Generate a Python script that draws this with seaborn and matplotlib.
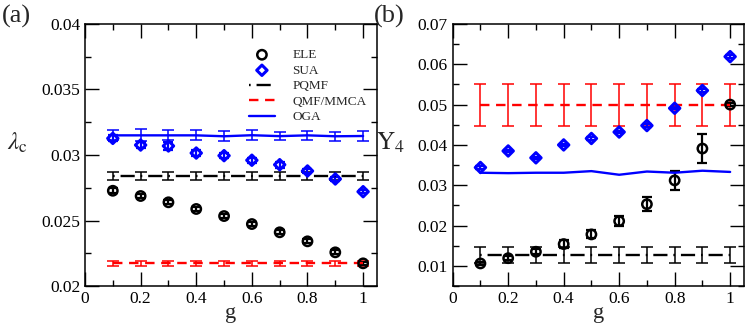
import matplotlib
matplotlib.use("Agg")
import matplotlib.pyplot as plt
from matplotlib.ticker import MultipleLocator, FuncFormatter
import seaborn as sns

# data
g = [0.1, 0.2, 0.3, 0.4, 0.5, 0.6, 0.7, 0.8, 0.9, 1.0]

# panel (a): lambda_c
ele_a = [0.02727, 0.02687, 0.02639, 0.02588, 0.02534, 0.02473, 0.02410, 0.02341, 0.02257, 0.02173]
ele_a_err = [0.00018, 0.00016, 0.00016, 0.00016, 0.00016, 0.00016, 0.00016, 0.00016, 0.00016, 0.00014]
sua_a = [0.03127, 0.03076, 0.03069, 0.03015, 0.02995, 0.02960, 0.02926, 0.02878, 0.02817, 0.02720]
sua_a_err = [0.00022, 0.00020, 0.00028, 0.00020, 0.00018, 0.00018, 0.00022, 0.00012, 0.00018, 0.00012]
pqmf_a = [0.02840, 0.02840, 0.02840, 0.02840, 0.02840, 0.02840, 0.02840, 0.02840, 0.02840, 0.02840]
pqmf_a_err = [0.00030, 0.00030, 0.00030, 0.00030, 0.00030, 0.00030, 0.00030, 0.00030, 0.00030, 0.00030]
qmf_a = [0.02173, 0.02173, 0.02173, 0.02173, 0.02173, 0.02173, 0.02173, 0.02173, 0.02173, 0.02173]
qmf_a_err = [0.00018, 0.00018, 0.00018, 0.00018, 0.00018, 0.00018, 0.00018, 0.00018, 0.00018, 0.00018]
oga_a = [0.03150, 0.03150, 0.03150, 0.03150, 0.03143, 0.03151, 0.03144, 0.03150, 0.03143, 0.03145]
oga_a_err = [0.00038, 0.00045, 0.00038, 0.00038, 0.00038, 0.00038, 0.00033, 0.00033, 0.00033, 0.00038]

# panel (b): Y4
ele_b = [0.0106, 0.0119, 0.0135, 0.0154, 0.0178, 0.0211, 0.0253, 0.0312, 0.0391, 0.0500]
ele_b_err = [0.0004, 0.0005, 0.0006, 0.0009, 0.0010, 0.0012, 0.0018, 0.0023, 0.0036, 0.0003]
sua_b = [0.0344, 0.0385, 0.0368, 0.0400, 0.0416, 0.0432, 0.0448, 0.0491, 0.0535, 0.0619]
sua_b_err = [0.0003, 0.0003, 0.0003, 0.0003, 0.0003, 0.0003, 0.0003, 0.0003, 0.0003, 0.0003]
pqmf_b = [0.0127, 0.0127, 0.0127, 0.0127, 0.0127, 0.0127, 0.0127, 0.0127, 0.0127, 0.0127]
pqmf_b_err = [0.0019, 0.0019, 0.0019, 0.0019, 0.0019, 0.0019, 0.0019, 0.0019, 0.0019, 0.0019]
qmf_b = [0.0500, 0.0500, 0.0500, 0.0500, 0.0500, 0.0500, 0.0500, 0.0500, 0.0500, 0.0500]
qmf_b_err = [0.0052, 0.0052, 0.0052, 0.0052, 0.0052, 0.0052, 0.0052, 0.0052, 0.0052, 0.0052]
oga_b = [0.0331, 0.0330, 0.0331, 0.0331, 0.0335, 0.0326, 0.0334, 0.0331, 0.0336, 0.0333]

BLUE = "#0000ff"
RED = "#ff0000"
BLACK = "#000000"
PQMF_LS = (0, (0.7, 2.5, 6, 2.5))
QMF_LS = (0, (4, 2.8))

sns.set_style("ticks")
plt.rcParams.update({
    "font.family": ["Liberation Serif", "DejaVu Serif"],
    "mathtext.fontset": "stix",
    "axes.linewidth": 1.1,
    "axes.edgecolor": "black",
    "axes.axisbelow": False,
})


def errbars(ax, y, err, color, capsize=4.5, lw=1.1):
    ax.errorbar(g, y, yerr=err, fmt="none", ecolor=color, elinewidth=lw,
                capsize=capsize, capthick=lw, zorder=2)


def style_ticks(ax):
    ax.set_axisbelow(False)
    ax.tick_params(which="major", direction="in", length=10, width=1.0,
                   color="black", top=True, right=True, bottom=True, left=True,
                   labelsize=12.5, labelcolor="black")
    ax.tick_params(which="minor", direction="in", length=4.5, width=1.0,
                   color="black", top=True, right=True, bottom=True, left=True)
    for axis in (ax.xaxis, ax.yaxis):
        for t in axis.get_major_ticks() + axis.get_minor_ticks():
            for ln in (t.tick1line, t.tick2line):
                ln.set_visible(True)
                ln.set_zorder(5)


def make_panel(ax, ele, ele_err, sua, sua_err, pqmf, pqmf_err, qmf, qmf_err,
               oga, oga_err, ylabel, ylim, major, minor, legend=False):
    errbars(ax, qmf, qmf_err, RED)
    errbars(ax, pqmf, pqmf_err, BLACK)
    if oga_err is not None:
        errbars(ax, oga, oga_err, BLUE)
    errbars(ax, ele, ele_err, BLACK, capsize=3.5, lw=1.6)
    errbars(ax, sua, sua_err, BLUE, capsize=3.5, lw=1.6)

    sns.lineplot(x=g, y=qmf, ax=ax, color=RED, lw=1.7, linestyle=QMF_LS, label="QMF/MMCA")
    sns.lineplot(x=g, y=pqmf, ax=ax, color=BLACK, lw=1.7, linestyle=PQMF_LS, label="PQMF")
    sns.lineplot(x=g, y=oga, ax=ax, color=BLUE, lw=1.7, label="OGA")
    sns.scatterplot(x=g, y=ele, ax=ax, marker="o", s=45, facecolor="none",
                    edgecolor=BLACK, linewidth=1.8, label="ELE", zorder=4)
    sns.scatterplot(x=g, y=sua, ax=ax, marker="D", s=28, facecolor="none",
                    edgecolor=BLUE, linewidth=2.2, label="SUA", zorder=4)

    ax.set_xlim(0, 1.05)
    ax.set_ylim(ylim[0], ylim[1])
    ax.xaxis.set_major_locator(MultipleLocator(0.2))
    ax.xaxis.set_minor_locator(MultipleLocator(0.1))
    ax.yaxis.set_major_locator(MultipleLocator(major))
    ax.yaxis.set_minor_locator(MultipleLocator(minor))
    fmt = FuncFormatter(lambda v, p: "%g" % round(v, 6))
    ax.xaxis.set_major_formatter(fmt)
    ax.yaxis.set_major_formatter(fmt)
    for side in ["top", "right", "left", "bottom"]:
        ax.spines[side].set_visible(True)
        ax.spines[side].set_color("black")

    ax.set_xlabel("g", fontsize=16, labelpad=-2)
    ax.set_ylabel(ylabel, fontsize=18, rotation=0)

    if legend:
        handles, labels = ax.get_legend_handles_labels()
        order = ["ELE", "SUA", "PQMF", "QMF/MMCA", "OGA"]
        hmap = dict(zip(labels, handles))
        ax.legend([hmap[k] for k in order], order, loc="upper left",
                  bbox_to_anchor=(0.52, 0.95), frameon=False, fontsize=9.5,
                  handlelength=2.0, labelspacing=0.25, handletextpad=1.3)
    else:
        leg = ax.get_legend()
        if leg is not None:
            leg.remove()
    style_ticks(ax)


fig = plt.figure(figsize=(7.47, 3.3), dpi=100)
ax_a = fig.add_axes([0.1138, 0.1333, 0.3909, 0.7940])
ax_b = fig.add_axes([0.6060, 0.1333, 0.3900, 0.7940])

make_panel(ax_a, ele_a, ele_a_err, sua_a, sua_a_err, pqmf_a, pqmf_a_err,
           qmf_a, qmf_a_err, oga_a, oga_a_err, r"$\lambda_\mathrm{c}$",
           (0.02, 0.04), 0.005, 0.0025, legend=True)
make_panel(ax_b, ele_b, ele_b_err, sua_b, sua_b_err, pqmf_b, pqmf_b_err,
           qmf_b, qmf_b_err, oga_b, None, r"$\mathrm{Y}_4$",
           (0.005, 0.07), 0.01, 0.005)

ax_a.yaxis.set_label_coords(-0.23, 0.5)
ax_b.yaxis.set_label_coords(-0.215, 0.5)

fig.text(0.002, 0.985, "(a)", fontsize=19, va="top", ha="left")
fig.text(0.500, 0.985, "(b)", fontsize=19, va="top", ha="left")

fig.savefig("out.png", dpi=100)
